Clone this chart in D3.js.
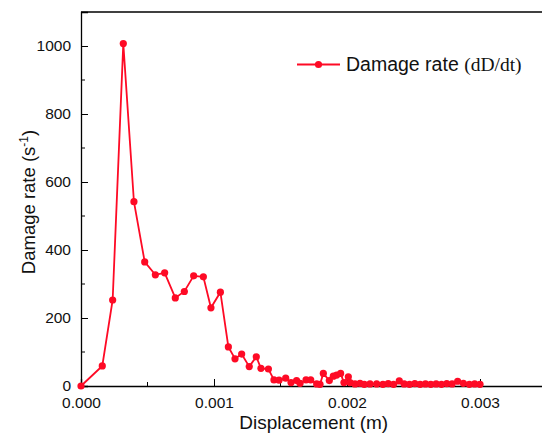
<!DOCTYPE html>
<html><head><meta charset="utf-8">
<script src="https://cdn.jsdelivr.net/npm/d3@7/dist/d3.min.js"></script>
<style>body{margin:0;background:#fff}svg{display:block}</style>
</head><body>
<svg id="c" width="542" height="434"></svg>
<script>
const displacement = [0, 0.00016, 0.000238, 0.000318, 0.000398, 0.000479, 0.000559, 0.000629, 0.000709, 0.000777, 0.000847, 0.00092, 0.000977, 0.001048, 0.001108, 0.001158, 0.001208, 0.001265, 0.001318, 0.001353, 0.001409, 0.001451, 0.001489, 0.001539, 0.001579, 0.001621, 0.001647, 0.001692, 0.001727, 0.001772, 0.001797, 0.001822, 0.001867, 0.001897, 0.001922, 0.001952, 0.001977, 0.00201, 0.002023, 0.00206, 0.002098, 0.00213, 0.002173, 0.002223, 0.00227, 0.00231, 0.00235, 0.002393, 0.00243, 0.00247, 0.00251, 0.00255, 0.00259, 0.00263, 0.00267, 0.00271, 0.00275, 0.00279, 0.002832, 0.002875, 0.00292, 0.00296, 0.003];
const damageRate = [0, 59, 253, 1007, 542, 365, 327, 333, 259, 278, 324, 321, 230, 276, 115, 80, 94, 57, 86, 52, 50, 18, 17, 23, 10, 16, 8, 18, 18, 6, 5, 37, 16, 29, 32, 37, 10, 27, 10, 6, 8, 5, 6, 6, 5, 7, 5, 15, 6, 5, 7, 5, 6, 5, 6, 5, 7, 6, 14, 8, 5, 6, 5];
const xMajorTicks = [0, 0.001, 0.002, 0.003];
const xTickLabels = ["0.000", "0.001", "0.002", "0.003"];
const xMinorTicks = [0.0005, 0.0015, 0.0025, 0.0035];
const yMajorTicks = [0, 200, 400, 600, 800, 1000];
const yMinorTicks = [100, 300, 500, 700, 900];
const seriesName = "Damage rate";
const seriesUnit = "(dD/dt)";

const red = "#fe0a25";
const svg = d3.select("#c");
const X0 = 81, X1 = 546.5, Y0 = 386, Y1 = 12;
const x = d3.scaleLinear().domain([0, 0.0035]).range([X0, X1]);
const y = d3.scaleLinear().domain([0, 1100]).range([Y0, Y1]);

// frame (top line)
svg.append("line").attr("x1", X0).attr("x2", X1).attr("y1", Y1).attr("y2", Y1)
  .attr("stroke", "#000").attr("stroke-width", 1.3);

// x axis
const gx = svg.append("g").attr("transform", `translate(0,${Y0})`);
gx.call(d3.axisBottom(x).tickValues(xMajorTicks).tickSize(-7).tickPadding(11)
  .tickFormat((d, i) => xTickLabels[i]));
gx.selectAll("line.minor").data(xMinorTicks).enter().append("line").attr("class","minor")
  .attr("x1", d => x(d)).attr("x2", d => x(d)).attr("y1", 0).attr("y2", -4).attr("stroke", "#000");
gx.select(".domain").attr("stroke-width", 1.3);

// y axis
const gy = svg.append("g").attr("transform", `translate(${X0},0)`);
gy.call(d3.axisLeft(y).tickValues(yMajorTicks).tickSize(-7).tickPadding(10).tickFormat(d3.format("d")));
gy.selectAll("line.minor").data(yMinorTicks).enter().append("line").attr("class","minor")
  .attr("y1", d => y(d)).attr("y2", d => y(d)).attr("x1", 0).attr("x2", 4).attr("stroke", "#000");
gy.select(".domain").attr("stroke-width", 1.3);

svg.selectAll(".tick text").attr("font-family", "Liberation Sans, Arial, sans-serif")
  .attr("font-size", 15.5).attr("fill", "#111");
svg.selectAll(".tick line").attr("stroke", "#000");

// axis titles
svg.append("text").attr("x", (X0 + X1) / 2).attr("y", 429).attr("text-anchor", "middle")
  .attr("font-family", "Liberation Sans, Arial, sans-serif").attr("font-size", 19).attr("fill", "#111")
  .text("Displacement (m)");
const yt = svg.append("text").attr("transform", "translate(35,202) rotate(-90)").attr("text-anchor", "middle")
  .attr("font-family", "Liberation Sans, Arial, sans-serif").attr("font-size", 18.5).attr("fill", "#111");
yt.append("tspan").text("Damage rate (s");
yt.append("tspan").attr("dy", -7).attr("font-size", 12).text("-1");
yt.append("tspan").attr("dy", 7).text(")");

// series
const data = displacement.map((d, i) => ({x: d, y: damageRate[i]}));
svg.append("path").datum(data)
  .attr("fill", "none").attr("stroke", red).attr("stroke-width", 1.8)
  .attr("d", d3.line().x(d => x(d.x)).y(d => y(d.y)));
svg.selectAll("circle.pt").data(data).enter().append("circle").attr("class", "pt")
  .attr("cx", d => x(d.x)).attr("cy", d => y(d.y)).attr("r", 3.6).attr("fill", red);

// legend
const lg = svg.append("g");
lg.append("line").attr("x1", 297).attr("x2", 340).attr("y1", 64.5).attr("y2", 64.5)
  .attr("stroke", red).attr("stroke-width", 1.8);
lg.append("circle").attr("cx", 318.5).attr("cy", 64.5).attr("r", 3.6).attr("fill", red);
const lt = lg.append("text").attr("x", 346).attr("y", 70.5).attr("font-size", 19.5).attr("fill", "#111");
lt.append("tspan").attr("font-family", "Liberation Sans, Arial, sans-serif").text(seriesName + " ");
lt.append("tspan").attr("font-family", "Liberation Serif, Times New Roman, serif").text(seriesUnit);
</script>
</body></html>
